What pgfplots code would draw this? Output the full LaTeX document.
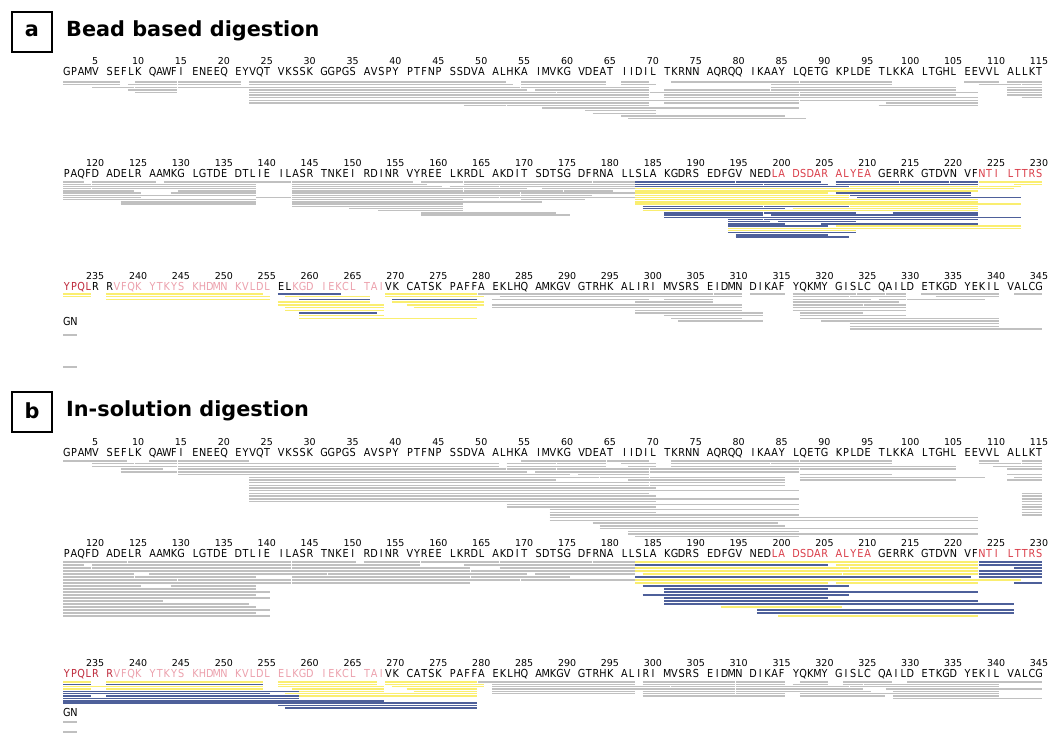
\documentclass[border=0pt]{standalone}
\usepackage{pgfplots}
\pgfplotsset{compat=1.18}
\usepackage{pgfplotstable}
\usepackage{graphicx}
\usepackage{fontspec}
\setmainfont{DejaVu Sans}
\definecolor{pgray}{RGB}{192,192,192}
\definecolor{pblue}{RGB}{78,96,154}
\definecolor{pyellow}{RGB}{250,238,112}
\definecolor{sred}{RGB}{218,60,72}
\definecolor{dred}{RGB}{190,40,58}
\definecolor{spink}{RGB}{236,160,172}

\newlength{\cw}\setlength{\cw}{7.15pt}
\def\seqB#1{\ifx#1r\color{sred}\else\ifx#1p\color{spink}\else\ifx#1k\color{black}\else\ifx#1d\color{dred}\else\makebox[\cw][c]{\scalebox{0.88}[1]{#1}}\fi\fi\fi\fi}
\def\seqA#1{\ifx#1\relax\else\seqB#1\expandafter\seqA\fi}
\newcommand\grp[1]{\seqA#1\relax\hspace*{\cw}}

\newcommand\rowA{\grp{GPAMV}\grp{SEFLK}\grp{QAWFI}\grp{ENEEQ}\grp{EYVQT}\grp{VKSSK}\grp{GGPGS}\grp{AVSPY}\grp{PTFNP}\grp{SSDVA}\grp{ALHKA}\grp{IMVKG}\grp{VDEAT}\grp{IIDIL}\grp{TKRNN}\grp{AQRQQ}\grp{IKAAY}\grp{LQETG}\grp{KPLDE}\grp{TLKKA}\grp{LTGHL}\grp{EEVVL}\grp{ALLKT}}
\newcommand\rowB{\grp{PAQFD}\grp{ADELR}\grp{AAMKG}\grp{LGTDE}\grp{DTLIE}\grp{ILASR}\grp{TNKEI}\grp{RDINR}\grp{VYREE}\grp{LKRDL}\grp{AKDIT}\grp{SDTSG}\grp{DFRNA}\grp{LLSLA}\grp{KGDRS}\grp{EDFGV}\grp{NEDrLA}\grp{DSDAR}\grp{ALYEA}\grp{kGERRK}\grp{GTDVN}\grp{VFrNTI}\grp{LTTRS}}
\newcommand\rowCa{\grp{dYPQLkR}\grp{RpVFQK}\grp{YTKYS}\grp{KHDMN}\grp{KVLDL}\grp{kELpKGD}\grp{IEKCL}\grp{TAIkVK}\grp{CATSK}\grp{PAFFA}\grp{EKLHQ}\grp{AMKGV}\grp{GTRHK}\grp{ALIRI}\grp{MVSRS}\grp{EIDMN}\grp{DIKAF}\grp{YQKMY}\grp{GISLC}\grp{QAILD}\grp{ETKGD}\grp{YEKIL}\grp{VALCG}}
\newcommand\rowCb{\grp{dYPQLR}\grp{RpVFQK}\grp{YTKYS}\grp{KHDMN}\grp{KVLDL}\grp{ELKGD}\grp{IEKCL}\grp{TAIkVK}\grp{CATSK}\grp{PAFFA}\grp{EKLHQ}\grp{AMKGV}\grp{GTRHK}\grp{ALIRI}\grp{MVSRS}\grp{EIDMN}\grp{DIKAF}\grp{YQKMY}\grp{GISLC}\grp{QAILD}\grp{ETKGD}\grp{YEKIL}\grp{VALCG}}

\tikzset{numlab/.style={anchor=base,inner sep=0pt,font=\fontsize{9.5}{11}\selectfont},
  seqlab/.style={anchor=base west,inner sep=0pt,font=\fontsize{11}{12}\selectfont},
  ttl/.style={anchor=west,inner sep=0pt,font=\fontsize{20.8}{24}\selectfont\bfseries}}

\newcommand\drawbars[3]{%
  \pgfplotstablegetrowsof{#1}%
  \pgfmathtruncatemacro\Bn{\pgfplotsretval-1}%
  \pgfplotsforeachungrouped \Bi in {0,...,\Bn}{%
    \pgfplotstablegetelem{\Bi}{s}\of{#1}\let\Bs\pgfplotsretval
    \pgfplotstablegetelem{\Bi}{e}\of{#1}\let\Be\pgfplotsretval
    \pgfplotstablegetelem{\Bi}{l}\of{#1}\let\Bl\pgfplotsretval
    \pgfplotstablegetelem{\Bi}{c}\of{#1}\let\Bc\pgfplotsretval
    \pgfmathtruncatemacro\Brw{floor((\Bs-1)/115)}%
    \pgfmathtruncatemacro\Bks{\Bs-1-115*\Brw}%
    \pgfmathtruncatemacro\Bke{\Be-1-115*\Brw}%
    \pgfmathsetmacro\Bxs{63+7.15*(\Bks+floor(\Bks/5))+0.4}%
    \pgfmathsetmacro\Bxe{63+7.15*(\Bke+floor(\Bke/5)+1)-0.4}%
    \pgfmathsetmacro\Bpt{{#3}[\Brw]}%
    \pgfmathsetmacro\Byy{{#2}[\Brw]+\Bpt*\Bl}%
    \ifcase\Bc\relax\def\Bcol{pgray}\or\def\Bcol{pblue}\or\def\Bcol{pyellow}\fi
    \edef\Btmp{\noexpand\addplot[draw=\Bcol,line width=1.4pt,forget plot] coordinates {(\Bxs,\Byy) (\Bxe,\Byy)};}%
    \Btmp
  }%
}
\newcommand\numrow[2]{%
  \pgfplotsforeachungrouped \Ng in {0,...,22}{%
    \pgfmathsetmacro\Nx{63+7.15*(6*\Ng+4.5)}%
    \pgfmathtruncatemacro\Nl{5*(\Ng+1)+#1}%
    \edef\Ntmp{\noexpand\node[numlab] at (axis cs:\Nx,#2) {\Nl};}%
    \Ntmp}}

\pgfplotstableread{
s e l c
1 7 0 0
10 14 0 0
15 21 0 0
23 52 0 0
55 64 0 0
66 69 0 0
72 86 0 0
87 97 0 0
106 110 0 0
111 115 0 0
1 7 1 0
9 14 1 0
15 21 1 0
23 53 1 0
55 64 1 0
66 70 1 0
84 97 1 0
108 112 1 0
113 115 1 0
5 9 2 0
10 14 2 0
15 22 2 0
23 54 2 0
55 69 2 0
84 105 2 0
111 115 2 0
9 14 3 0
23 55 3 0
56 69 3 0
71 83 3 0
84 105 3 0
111 115 3 0
10 14 4 0
23 58 4 0
59 69 4 0
70 86 4 0
87 107 4 0
111 115 4 0
23 69 5 0
71 86 5 0
87 105 5 0
111 115 5 0
23 69 6 0
71 107 6 0
113 115 6 0
23 86 7 0
87 107 7 0
23 69 8 0
71 86 8 0
97 107 8 0
48 52 9 0
53 69 9 0
96 107 9 0
57 86 10 0
62 70 11 0
63 70 12 0
66 85 13 0
67 87 14 0
116 118 0 0
120 126 0 0
128 138 0 0
139 142 0 0
143 156 0 0
158 162 0 0
163 171 0 0
172 177 0 0
178 182 0 0
116 119 1 0
120 138 1 0
143 158 1 0
163 171 1 0
172 182 1 0
116 138 2 0
143 160 2 0
161 166 2 0
167 182 2 0
116 119 3 0
120 138 3 0
143 162 3 0
163 170 3 0
172 182 3 0
116 124 4 0
130 138 4 0
143 162 4 0
163 174 4 0
175 180 4 0
116 125 5 0
129 138 5 0
143 169 5 0
170 182 5 0
116 138 6 0
143 169 6 0
170 177 6 0
116 125 7 0
139 142 7 0
143 166 7 0
167 182 7 0
116 138 8 0
143 162 8 0
170 176 8 0
123 138 9 0
143 171 9 0
123 138 10 0
143 162 10 0
143 162 11 0
150 162 12 0
153 162 13 0
158 173 14 0
158 175 15 0
183 194 0 1
195 199 0 1
200 204 0 1
206 213 0 1
214 219 0 1
220 222 0 1
223 230 0 2
183 197 1 1
198 205 1 1
206 222 1 1
227 230 1 2
183 207 2 1
208 222 2 2
223 227 2 2
183 226 3 2
183 222 4 2
183 205 5 2
206 221 5 1
183 207 6 2
208 221 6 1
183 207 7 2
209 227 7 1
183 222 8 2
183 222 9 2
183 227 10 2
184 197 11 1
198 207 11 1
208 222 11 2
184 200 12 1
201 222 12 2
184 222 13 2
186 197 14 1
198 208 14 1
213 222 14 1
186 197 15 1
199 222 15 1
186 227 16 1
194 197 17 1
198 222 17 1
194 198 18 1
200 208 18 1
194 200 19 1
205 222 19 1
194 205 20 1
206 227 20 2
194 227 21 2
194 208 22 2
194 208 23 1
195 205 24 1
195 207 25 1
231 234 0 2
236 254 0 2
256 263 0 1
269 279 0 2
280 297 0 0
298 303 0 0
304 306 0 0
307 310 0 0
311 315 0 0
316 319 0 0
320 323 0 0
324 326 0 0
327 329 0 0
331 336 0 0
337 340 0 0
342 345 0 0
231 234 1 2
236 255 1 2
257 266 1 2
269 280 1 2
282 297 1 0
298 303 1 0
304 310 1 0
316 322 1 0
323 329 1 0
333 340 1 0
236 255 2 2
259 266 2 1
270 279 2 1
281 299 2 0
301 306 2 0
316 325 2 0
326 329 2 0
330 338 2 0
256 266 3 2
270 280 3 2
298 306 3 0
316 328 3 0
256 268 4 2
271 280 4 2
281 297 4 0
298 310 4 0
316 324 4 0
325 329 4 0
257 268 5 2
272 279 5 2
281 297 5 0
298 310 5 0
316 329 5 0
257 268 6 2
298 310 6 0
316 329 6 0
259 267 7 1
298 312 7 0
317 324 7 0
259 268 8 2
301 312 8 0
317 329 8 0
259 279 9 2
302 310 9 0
317 340 9 0
303 312 10 0
320 340 10 0
323 340 11 0
323 340 12 0
323 345 13 0
346 347 0 0
346 347 13 0
}\barsA

\pgfplotstableread{
s e l c
1 8 0 0
11 14 0 0
15 22 0 0
55 64 0 0
65 69 0 0
72 86 0 0
87 97 0 0
108 110 0 0
113 115 0 0
5 9 1 0
10 14 1 0
15 22 1 0
23 51 1 0
53 58 1 0
59 64 1 0
66 70 1 0
72 83 1 0
84 97 1 0
108 112 1 0
113 115 1 0
5 14 2 0
15 22 2 0
23 51 2 0
53 64 2 0
67 70 2 0
72 105 2 0
110 115 2 0
8 12 3 0
15 52 3 0
53 58 3 0
59 69 3 0
70 86 3 0
87 105 3 0
111 115 3 0
8 14 4 0
15 22 4 0
23 55 4 0
56 69 4 0
70 86 4 0
15 22 5 0
23 60 5 0
61 69 5 0
87 97 5 0
111 115 5 0
23 63 6 0
64 69 6 0
70 85 6 0
87 108 6 0
112 115 6 0
23 58 7 0
67 85 7 0
87 105 7 0
111 115 7 0
23 69 8 0
70 85 8 0
23 69 9 0
70 85 9 0
23 70 10 0
23 86 11 0
23 69 12 0
113 115 12 0
23 70 13 0
113 115 13 0
23 86 14 0
113 115 14 0
23 70 15 0
113 115 15 0
53 86 16 0
113 115 16 0
53 70 17 0
113 115 17 0
58 86 18 0
113 115 18 0
58 70 19 0
113 115 19 0
58 86 20 0
113 115 20 0
58 107 21 0
58 107 22 0
63 84 23 0
64 85 24 0
64 107 25 0
67 86 26 0
67 107 27 0
68 86 28 0
116 123 0 0
124 138 0 0
139 142 0 0
143 150 0 0
151 157 0 0
158 166 0 0
167 177 0 0
178 182 0 0
116 118 1 0
120 138 1 0
139 142 1 0
143 157 1 0
163 182 1 0
116 119 2 0
120 138 2 0
139 142 2 0
143 163 2 0
167 182 2 0
116 138 3 0
139 143 3 0
144 163 3 0
164 182 3 0
116 124 4 0
126 138 4 0
139 146 4 0
147 170 4 0
171 182 4 0
116 124 5 0
125 138 5 0
143 163 5 0
164 175 5 0
116 129 6 0
130 138 6 0
139 142 6 0
143 169 6 0
170 182 6 0
116 138 7 0
139 142 7 0
143 163 7 0
116 125 8 0
129 138 8 0
116 138 9 0
116 140 10 0
116 138 11 0
116 140 12 0
116 127 13 0
116 137 14 0
116 138 15 0
116 140 16 0
116 138 17 0
116 140 18 0
183 199 0 2
200 222 0 2
223 226 0 1
227 230 0 1
183 205 1 1
206 222 1 2
223 230 1 1
183 207 2 2
208 222 2 2
227 230 2 1
183 222 3 2
223 230 3 1
184 206 4 2
207 222 4 2
223 230 4 1
183 221 5 1
223 230 5 1
183 227 6 2
183 205 7 2
206 222 7 2
227 230 7 1
184 207 8 1
186 205 9 1
186 222 10 1
184 207 11 1
186 205 12 1
186 222 13 1
186 226 14 1
193 206 15 2
197 226 16 1
197 226 17 1
200 222 18 2
231 234 0 2
236 254 0 2
256 267 0 2
269 279 0 2
280 297 0 0
299 309 0 0
310 315 0 0
317 320 0 0
322 327 0 0
330 345 0 0
231 234 1 1
236 254 1 1
256 267 1 2
269 280 1 2
281 297 1 0
299 309 1 0
310 315 1 0
316 320 1 0
322 324 1 0
325 340 1 0
231 254 2 2
256 268 2 2
270 280 2 2
281 301 2 0
302 309 2 0
310 322 2 0
323 340 2 0
231 234 3 2
236 254 3 2
258 268 3 2
271 279 3 2
281 302 3 0
303 309 3 0
310 324 3 0
327 345 3 0
231 258 4 1
259 268 4 2
272 279 4 2
281 297 4 0
299 309 4 0
310 325 4 0
328 340 4 0
231 255 5 1
257 279 5 2
281 297 5 0
299 309 5 0
310 315 5 0
317 340 5 0
231 234 6 1
236 258 6 1
259 279 6 2
299 315 6 0
317 326 6 0
328 340 6 0
231 258 7 1
328 345 7 0
231 268 8 1
231 279 9 1
256 279 10 1
257 279 11 1
346 347 0 0
346 347 4 0
}\barsB

\begin{document}
\begin{tikzpicture}
\fill[white] (0,0) rectangle (1055pt,740pt);
\begin{axis}[width=1055pt,height=740pt,scale only axis,
  xmin=0,xmax=1055,ymin=0,ymax=740,y dir=reverse,
  hide axis,clip=false,enlargelimits=false]
\drawbars{\barsA}{82,182,294,335}{2.6,2.2,2.7,2.45}
\drawbars{\barsB}{461,562,682,722}{2.7,3.0,2.35,2.45}
% panel a
\draw[line width=1.5pt] (axis cs:12,12) rectangle (axis cs:52,52);
\node[font=\fontsize{20.8}{24}\selectfont\bfseries,inner sep=0pt] at (axis cs:32,31) {a};
\node[ttl] at (axis cs:66,31) {Bead based digestion};
\numrow{0}{64}
\numrow{115}{166}
\numrow{230}{279}
\node[seqlab] at (axis cs:63,75) {\rowA};
\node[seqlab] at (axis cs:63,177) {\rowB};
\node[seqlab] at (axis cs:63,290) {\rowCa};
\node[seqlab] at (axis cs:63,325) {\grp{GN}};
% panel b
\draw[line width=1.5pt] (axis cs:12,392) rectangle (axis cs:52,432);
\node[font=\fontsize{20.8}{24}\selectfont\bfseries,inner sep=0pt] at (axis cs:32,411) {b};
\node[ttl] at (axis cs:66,411) {In-solution digestion};
\numrow{0}{445}
\numrow{115}{546}
\numrow{230}{666}
\node[seqlab] at (axis cs:63,456) {\rowA};
\node[seqlab] at (axis cs:63,557) {\rowB};
\node[seqlab] at (axis cs:63,677) {\rowCb};
\node[seqlab] at (axis cs:63,716) {\grp{GN}};
\end{axis}
\end{tikzpicture}
\end{document}
